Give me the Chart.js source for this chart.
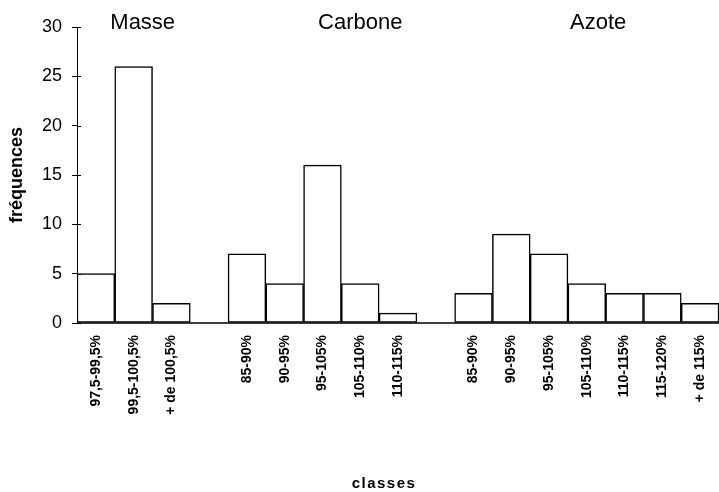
<!DOCTYPE html>
<html>
<head>
<meta charset="utf-8">
<script src="https://cdn.jsdelivr.net/npm/chart.js@4"></script>
<style>
html,body{margin:0;padding:0;background:#fff;}
#wrap{width:719px;height:492px;position:relative;}
</style>
</head>
<body>
<div id="wrap"><canvas id="c" width="719" height="492"></canvas></div>
<script>
// Groups and their classes / frequencies
const groupNames = ['Masse', 'Carbone', 'Azote'];
const masseClasses = ['97,5-99,5%', '99,5-100,5%', '+ de 100,5%'];
const masseValues = [5, 26, 2];
const carboneClasses = ['85-90%', '90-95%', '95-105%', '105-110%', '110-115%'];
const carboneValues = [7, 4, 16, 4, 1];
const azoteClasses = ['85-90%', '90-95%', '95-105%', '105-110%', '110-115%', '115-120%', '+ de 115%'];
const azoteValues = [3, 9, 7, 4, 3, 3, 2];
const yTicks = [0, 5, 10, 15, 20, 25, 30];
const xTitle = 'classes';

const groupClasses = [masseClasses, carboneClasses, azoteClasses];
const groupValues = [masseValues, carboneValues, azoteValues];

// build category list with one empty slot between groups
const labels = [];
const values = [];
const groupRanges = [];
groupClasses.forEach((cls, g) => {
  if (g > 0) { labels.push(''); values.push(null); }
  const start = labels.length;
  cls.forEach((c, i) => { labels.push(c); values.push(groupValues[g][i]); });
  groupRanges.push([start, labels.length - 1]);
});

const groupLabelPlugin = {
  id: 'groupLabels',
  afterDraw(chart, args, opts) {
    const ctx = chart.ctx;
    const xs = chart.scales.x;
    const ys = chart.scales.y;
    ctx.save();
    // inner half of the y tick marks
    ctx.strokeStyle = '#000';
    ctx.lineWidth = 1;
    yTicks.forEach(t => {
      const y = Math.round(ys.getPixelForValue(t)) + 0.5;
      ctx.beginPath();
      ctx.moveTo(xs.left, y);
      ctx.lineTo(xs.left + 4, y);
      ctx.stroke();
    });
    // x axis line over the bars
    ctx.lineWidth = 1.5;
    ctx.beginPath();
    ctx.moveTo(xs.left, ys.bottom);
    ctx.lineTo(xs.right, ys.bottom);
    ctx.stroke();
    ctx.fillStyle = '#000';
    ctx.font = '22px "Liberation Sans", Arial, sans-serif';
    ctx.textAlign = 'center';
    ctx.textBaseline = 'middle';
    groupNames.forEach((name, g) => {
      const [s, e] = groupRanges[g];
      const mid = (s + e) / 2 + opts.shift[g];
      ctx.fillText(name, xs.getPixelForValue(mid), chart.chartArea.top - 4);
    });
    // x axis title with letter spacing
    ctx.font = 'bold 15px "Liberation Sans", Arial, sans-serif';
    if ('letterSpacing' in ctx) ctx.letterSpacing = '1.5px';
    ctx.fillText(xTitle, (xs.left + xs.right) / 2 - 14, 484);
    ctx.restore();
  }
};

new Chart(document.getElementById('c'), {
  type: 'bar',
  data: {
    labels: labels,
    datasets: [{
      data: values,
      backgroundColor: '#fff',
      borderColor: '#000',
      borderWidth: 1.5,
      borderSkipped: false,
      barPercentage: 1,
      categoryPercentage: 1
    }]
  },
  plugins: [groupLabelPlugin],
  options: {
    responsive: false,
    animation: false,
    layout: { padding: { top: 27, right: 0, left: 0, bottom: 0 } },
    plugins: {
      legend: { display: false },
      tooltip: { enabled: false },
      groupLabels: { shift: [0.24, 1.0, 0.3] }
    },
    scales: {
      x: {
        afterFit(s) { s.height = 169; s.paddingLeft = 0; s.paddingRight = 0; },
        grid: { display: false },
        border: { display: false },
        ticks: {
          autoSkip: false,
          minRotation: 90,
          maxRotation: 90,
          padding: 4,
          color: '#000',
          font: { family: '"Liberation Sans", Arial, sans-serif', size: 14, weight: 'bold' }
        },
        title: { display: false }
      },
      y: {
        min: 0,
        max: 30,
        afterFit(s) { s.width = 77; },
        afterBuildTicks(s) { s.ticks = yTicks.map(v => ({ value: v })); },
        grid: { drawOnChartArea: false, drawTicks: true, tickLength: 5, color: '#000' },
        border: { display: true, color: '#000', width: 1 },
        ticks: {
          padding: 10,
          color: '#000',
          font: { family: '"Liberation Sans", Arial, sans-serif', size: 18 }
        },
        title: {
          display: true,
          text: 'fréquences',
          color: '#000',
          padding: { top: 6, bottom: 0 },
          font: { family: '"Liberation Sans", Arial, sans-serif', size: 18, weight: 'bold', lineHeight: 1.2 }
        }
      }
    }
  }
});
</script>
</body>
</html>
